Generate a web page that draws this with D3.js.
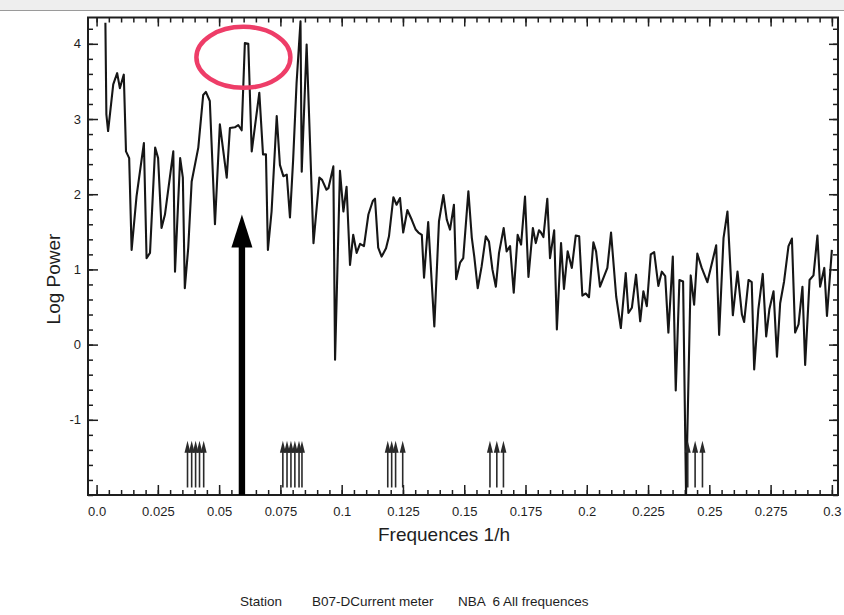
<!DOCTYPE html>
<meta charset="utf-8">
<style>

body {
  margin: 0;
  background: #fff;
}

text {
  font-family: "Liberation Sans", Arial, sans-serif;
  fill: #1e1e1e;
}

.tick text {
  font-size: 13px;
}

.title {
  font-size: 19px;
}

.footer {
  font-size: 13.5px;
  white-space: pre;
}

</style>
<body>
<script src="https://d3js.org/d3.v7.min.js"></script>
<script>

// spectrum
var freqs = [0.0036,0.0040,0.0047,0.0068,0.0084,0.0095,0.0111,0.0120,0.0133,0.0143,
  0.0163,0.0193,0.0204,0.0218,0.0239,0.0251,0.0265,0.0279,0.0313,0.0320,
  0.0341,0.0352,0.0360,0.0374,0.0388,0.0415,0.0435,0.0446,0.0462,0.0483,
  0.0503,0.0531,0.0544,0.0564,0.0578,0.0592,0.0605,0.0619,0.0633,0.0664,
  0.0679,0.0691,0.0699,0.0714,0.0735,0.0748,0.0762,0.0776,0.0789,0.0802,
  0.0816,0.0832,0.0837,0.0857,0.0885,0.0909,0.0920,0.0938,0.0946,0.0966,
  0.0973,0.0993,0.1007,0.1020,0.1034,0.1047,0.1061,0.1075,0.1091,0.1109,
  0.1127,0.1136,0.1149,0.1163,0.1181,0.1193,0.1211,0.1224,0.1238,0.1251,
  0.1268,0.1286,0.1302,0.1313,0.1327,0.1336,0.1353,0.1378,0.1397,0.1415,
  0.1429,0.1442,0.1458,0.1467,0.1483,0.1496,0.1517,0.1531,0.1541,0.1555,
  0.1571,0.1588,0.1601,0.1615,0.1629,0.1642,0.1661,0.1673,0.1687,0.1702,
  0.1718,0.1732,0.1748,0.1762,0.1780,0.1792,0.1805,0.1813,0.1823,0.1839,
  0.1850,0.1867,0.1878,0.1895,0.1907,0.1922,0.1939,0.1955,0.1969,0.1982,
  0.1996,0.2009,0.2027,0.2038,0.2054,0.2084,0.2099,0.2120,0.2139,0.2159,
  0.2170,0.2184,0.2201,0.2218,0.2231,0.2245,0.2261,0.2275,0.2292,0.2306,
  0.2320,0.2333,0.2351,0.2363,0.2378,0.2393,0.2405,0.2424,0.2438,0.2451,
  0.2469,0.2492,0.2528,0.2540,0.2558,0.2574,0.2596,0.2615,0.2633,0.2642,
  0.2660,0.2673,0.2683,0.2700,0.2718,0.2732,0.2745,0.2762,0.2776,0.2789,
  0.2805,0.2823,0.2837,0.2850,0.2864,0.2880,0.2891,0.2909,0.2925,0.2941,
  0.2952,0.2969,0.2980,0.3000];

var logPower = [4.28,3.06,2.84,3.46,3.61,3.41,3.59,2.57,2.48,1.26,
  1.97,2.68,1.15,1.22,2.62,2.48,1.55,1.73,2.57,0.97,
  2.48,2.22,0.75,1.29,2.17,2.62,3.32,3.36,3.24,1.60,
  2.93,2.22,2.88,2.89,2.92,2.85,4.01,4.00,2.57,3.35,
  2.53,2.53,1.26,1.77,3.04,2.39,2.24,2.26,1.69,2.46,
  3.48,4.30,2.30,3.99,1.35,2.22,2.19,2.06,2.08,2.37,
  -0.20,2.31,1.77,2.10,1.06,1.46,1.22,1.34,1.31,1.73,
  1.91,1.94,1.29,1.17,1.28,1.44,1.96,1.86,1.95,1.49,
  1.79,1.66,1.53,1.49,1.46,0.89,1.63,0.24,1.64,1.99,
  1.66,1.53,1.86,0.87,1.09,1.15,2.04,1.42,1.17,0.75,
  1.04,1.44,1.37,1.00,0.77,1.22,1.55,1.24,1.31,0.69,
  1.46,1.33,1.97,0.90,1.55,1.35,1.52,1.49,1.43,1.94,
  1.15,1.52,0.20,1.35,0.74,1.24,1.02,1.45,1.44,0.65,
  0.68,0.63,1.36,1.24,0.77,1.02,1.49,0.64,0.22,0.95,
  0.42,0.49,0.93,0.31,0.71,0.51,1.20,1.23,0.78,0.97,
  0.91,0.16,1.17,-0.61,0.86,0.84,-2.00,0.92,0.53,1.21,
  1.02,0.83,1.32,0.13,1.42,1.77,0.39,0.97,0.40,0.30,
  0.86,0.83,-0.33,0.47,0.94,0.11,0.47,0.71,-0.16,0.55,
  0.84,1.31,1.41,0.16,0.27,0.77,-0.27,0.86,0.92,1.45,
  0.77,1.02,0.38,1.26];

// tidal constituents marked by the small arrows
var tideFreqs = [0.0371,0.0388,0.0404,0.0420,0.0437,
  0.0760,0.0777,0.0793,0.0809,0.0826,0.0838,
  0.1188,0.1204,0.1220,0.1249,
  0.1605,0.1633,0.1660,
  0.2412,0.2442,0.2472];

var xTickValues = [0, 0.025, 0.05, 0.075, 0.1, 0.125, 0.15, 0.175, 0.2, 0.225, 0.25, 0.275, 0.3];
var xTickLabels = ["0.0","0.025","0.05","0.075","0.1","0.125","0.15","0.175","0.2","0.225","0.25","0.275","0.3"];
var yTickValues = [-1, 0, 1, 2, 3, 4];
var yTickLabels = ["-1","0","1","2","3","4"];

var inertialFreq = 0.0593,   // big black arrow
    inertialTip = 1.73;
var circledPeak = {f: 0.0599, v: 3.82};

var width = 844,
    height = 615;

var plotL = 88, plotR = 838, plotT = 17.5, plotB = 495;

var x = d3.scaleLinear().domain([-0.0035, 0.3025]).range([plotL, plotR]);
var y = d3.scaleLinear().domain([-2, 4.35]).range([plotB, plotT]);

var svg = d3.select("body").append("svg")
    .attr("width", width)
    .attr("height", height);

// scanned page edge at the top
svg.append("rect")
    .attr("x", 0).attr("y", 0)
    .attr("width", width).attr("height", 10)
    .attr("fill", "#eeeeee");
svg.append("line")
    .attr("x1", 0).attr("x2", width)
    .attr("y1", 10.5).attr("y2", 10.5)
    .attr("stroke", "#9a9a9a")
    .attr("stroke-width", 1.2);

var minorX = d3.range(0, 0.3001, 0.005),
    minorY = d3.range(-2, 4.3, 0.2);

function ticks(g) {
  g.select(".domain").remove();
  g.selectAll(".tick line").attr("stroke", "#1e1e1e").attr("stroke-width", 1.5);
}

// bottom
svg.append("g")
    .attr("transform", "translate(0," + plotB + ")")
    .call(d3.axisBottom(x).tickValues(minorX).tickSize(-5).tickFormat(""))
    .call(ticks);
svg.append("g")
    .attr("transform", "translate(0," + plotB + ")")
    .call(d3.axisBottom(x).tickValues(xTickValues).tickSize(-10).tickPadding(12)
      .tickFormat(function(d, i) { return xTickLabels[i]; }))
    .call(ticks);

// top
svg.append("g")
    .attr("transform", "translate(0," + plotT + ")")
    .call(d3.axisTop(x).tickValues(minorX).tickSize(-5).tickFormat(""))
    .call(ticks);
svg.append("g")
    .attr("transform", "translate(0," + plotT + ")")
    .call(d3.axisTop(x).tickValues(xTickValues).tickSize(-9).tickFormat(""))
    .call(ticks);

// left
svg.append("g")
    .attr("transform", "translate(" + plotL + ",0)")
    .call(d3.axisLeft(y).tickValues(minorY).tickSize(-5).tickFormat(""))
    .call(ticks);
svg.append("g")
    .attr("transform", "translate(" + plotL + ",0)")
    .call(d3.axisLeft(y).tickValues(yTickValues).tickSize(-10).tickPadding(7)
      .tickFormat(function(d, i) { return yTickLabels[i]; }))
    .call(ticks);

// right
svg.append("g")
    .attr("transform", "translate(" + plotR + ",0)")
    .call(d3.axisRight(y).tickValues(minorY).tickSize(-5).tickFormat(""))
    .call(ticks);
svg.append("g")
    .attr("transform", "translate(" + plotR + ",0)")
    .call(d3.axisRight(y).tickValues(yTickValues).tickSize(-9).tickFormat(""))
    .call(ticks);

svg.selectAll(".tick text").attr("fill", "#1e1e1e");

// frame
svg.append("rect")
    .attr("x", plotL).attr("y", plotT)
    .attr("width", plotR - plotL).attr("height", plotB - plotT)
    .attr("fill", "none")
    .attr("stroke", "#1e1e1e")
    .attr("stroke-width", 2);

svg.append("clipPath").attr("id", "plot")
  .append("rect")
    .attr("x", plotL).attr("y", plotT)
    .attr("width", plotR - plotL).attr("height", plotB - plotT);

var line = d3.line()
    .x(function(d) { return x(d[0]); })
    .y(function(d) { return y(d[1]); });

svg.append("path")
    .datum(d3.zip(freqs, logPower))
    .attr("clip-path", "url(#plot)")
    .attr("fill", "none")
    .attr("stroke", "#161616")
    .attr("stroke-width", 2.1)
    .attr("stroke-linejoin", "round")
    .attr("d", line);

// small tide arrows
var tides = svg.append("g").selectAll("g")
    .data(tideFreqs)
  .enter().append("g")
    .attr("transform", function(d) { return "translate(" + x(d) + ",0)"; });

tides.append("line")
    .attr("y1", y(-1.9))
    .attr("y2", y(-1.28) + 6)
    .attr("stroke", "#2a2a2a")
    .attr("stroke-width", 1.6);

tides.append("path")
    .attr("d", "M0," + y(-1.28) + "L3," + (y(-1.28) + 12) + "L-3," + (y(-1.28) + 12) + "Z")
    .attr("fill", "#2a2a2a");

// big arrow
var ax = x(inertialFreq),
    tip = y(inertialTip);

svg.append("rect")
    .attr("x", ax - 3.2)
    .attr("y", tip + 28)
    .attr("width", 6.4)
    .attr("height", y(-2) - tip - 28)
    .attr("fill", "#000");

svg.append("path")
    .attr("d", "M" + ax + "," + tip + "L" + (ax + 10.5) + "," + (tip + 33) +
      "L" + (ax - 10.5) + "," + (tip + 33) + "Z")
    .attr("fill", "#000");

// red circle around the peak
svg.append("ellipse")
    .attr("cx", x(circledPeak.f))
    .attr("cy", y(circledPeak.v))
    .attr("rx", 47)
    .attr("ry", 30.5)
    .attr("fill", "none")
    .attr("stroke", "#ee3d68")
    .attr("stroke-width", 4.5);

// labels
svg.append("text")
    .attr("class", "title")
    .attr("x", 444)
    .attr("y", 541)
    .attr("text-anchor", "middle")
    .text("Frequences 1/h");

svg.append("text")
    .attr("class", "title")
    .attr("transform", "translate(60,279) rotate(-90)")
    .attr("text-anchor", "middle")
    .text("Log Power");

svg.append("text").attr("class", "footer")
    .attr("x", 240).attr("y", 606)
    .text("Station");
svg.append("text").attr("class", "footer")
    .attr("x", 312).attr("y", 606)
    .text("B07-DCurrent meter");
svg.append("text").attr("class", "footer")
    .attr("x", 458).attr("y", 606)
    .text("NBA  6 All frequences");

</script>
</body>
